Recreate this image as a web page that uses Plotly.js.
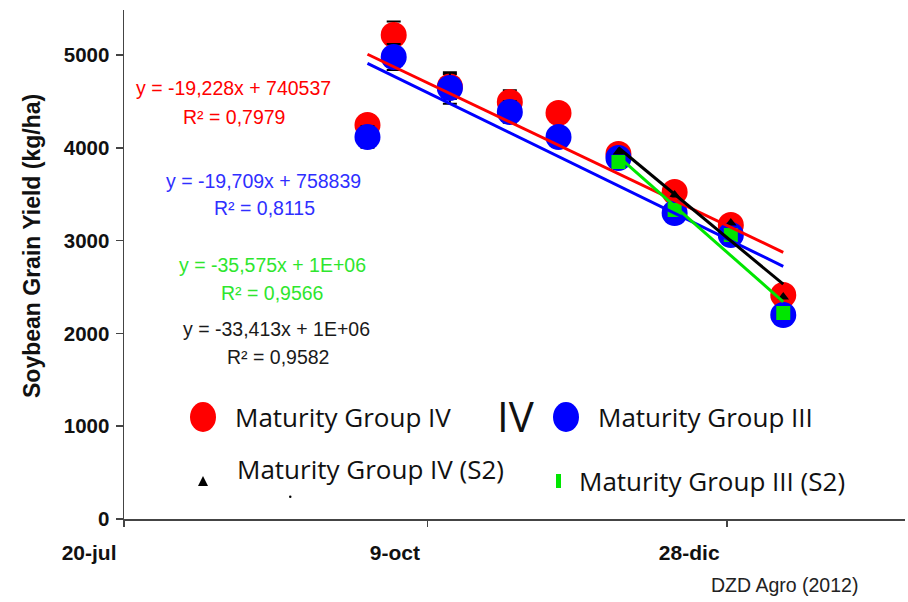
<!DOCTYPE html>
<html>
<head>
<meta charset="utf-8">
<script src="https://cdn.plot.ly/plotly-3.0.1.min.js"></script>
<style>
  html, body { margin: 0; padding: 0; background: #fff; }
  #chart { width: 908px; height: 602px; }
</style>
</head>
<body>
<div id="chart"></div>
<script>
// Sowing dates and mean grain yield (kg/ha) per maturity group
const sowingDates = ['2004-09-23', '2004-09-30', '2004-10-15', '2004-10-31', '2004-11-13',
                     '2004-11-29', '2004-12-14', '2004-12-29', '2005-01-12'];
const yieldMG4 = [4246, 5216, 4660, 4494, 4375, 3933, 3524, 3168, 2414];
const errMG4   = [105, 145, 135, 125, 100, 90, 90, 90, 90];
const yieldMG3 = [4116, 4978, 4644, 4386, 4116, 3890, 3297, 3060, 2198];
const errMG3   = [115, 140, 170, 115, 100, 90, 90, 90, 90];

// Second season (S2) subset
const sowingDatesS2 = ['2004-11-29', '2004-12-14', '2004-12-29', '2005-01-12'];
const yieldMG4S2 = [3955, 3491, 3190, 2392];
const yieldMG3S2 = [3847, 3330, 3060, 2220];

// Linear trend fits (x = spreadsheet date serial)
const trendSlopes     = [-19.228, -19.709, -35.575, -33.413];
const trendIntercepts = [740537, 758839, null, null];   // null: fit through the series mean
const trendR2         = ['0,7979', '0,8115', '0,9566', '0,9582'];

// Axis ticks
const tickDates  = ['2004-07-20', '2004-10-09', '2004-12-28'];
const tickLabels = ['20-jul', '9-oct', '28-dic'];
const yTicks     = [0, 1000, 2000, 3000, 4000, 5000];

const seriesNames = ['Maturity Group IV', 'Maturity Group III', 'Maturity Group IV (S2)', 'Maturity Group III (S2)'];

const RED = '#FF0000', BLUE = '#0000FF', GREEN = '#00E600', BLACK = '#000000';
const GREEN_TEXT = '#2EE62E', BLUE_TEXT = '#2F2FFF';

function serial(d) { return Date.parse(d + 'T00:00:00Z') / 86400000 + 25569; }
function mean(a) { return a.reduce((s, v) => s + v, 0) / a.length; }

function trendLine(dates, values, k) {
  const slope = trendSlopes[k];
  let b = trendIntercepts[k];
  if (b === null) b = mean(values) - slope * mean(dates.map(serial));
  const xs = [dates[0], dates[dates.length - 1]];
  return { x: xs, y: xs.map(d => slope * serial(d) + b), b: b };
}

function fmtNum(v) {
  if (Math.abs(v) >= 1e6) {
    const e = Math.floor(Math.log10(Math.abs(v)));
    const m = Math.round(v / Math.pow(10, e));
    return m + 'E+' + String(e).padStart(2, '0');
  }
  return String(Math.round(v));
}
function eqText(k, b) {
  return 'y = ' + trendSlopes[k].toFixed(3).replace('.', ',') + 'x + ' + fmtNum(b);
}

const fitMG4   = trendLine(sowingDates, yieldMG4, 0);
const fitMG3   = trendLine(sowingDates, yieldMG3, 1);
const fitMG3S2 = trendLine(sowingDatesS2, yieldMG3S2, 2);
const fitMG4S2 = trendLine(sowingDatesS2, yieldMG4S2, 3);

const errStyle = { type: 'data', visible: true, color: BLACK, thickness: 2, width: 7 };

const traces = [
  { x: sowingDates, y: yieldMG4, name: seriesNames[0], mode: 'markers', type: 'scatter',
    marker: { color: RED, size: 26 }, error_y: Object.assign({ array: errMG4 }, errStyle) },
  { x: sowingDates, y: yieldMG3, name: seriesNames[1], mode: 'markers', type: 'scatter',
    marker: { color: BLUE, size: 26 }, error_y: Object.assign({ array: errMG3 }, errStyle) },
  { x: sowingDatesS2, y: yieldMG4S2, name: seriesNames[2], mode: 'markers', type: 'scatter',
    marker: { color: BLACK, size: 10, symbol: 'triangle-up' } },
  { x: sowingDatesS2, y: yieldMG3S2, name: seriesNames[3], mode: 'markers', type: 'scatter',
    marker: { color: GREEN, size: 14, symbol: 'square' } },
  { x: fitMG3.x, y: fitMG3.y, mode: 'lines', line: { color: BLUE, width: 3 }, hoverinfo: 'skip' },
  { x: fitMG4.x, y: fitMG4.y, mode: 'lines', line: { color: RED, width: 3 }, hoverinfo: 'skip' },
  { x: fitMG3S2.x, y: fitMG3S2.y, mode: 'lines', line: { color: GREEN, width: 3 }, hoverinfo: 'skip' },
  { x: fitMG4S2.x, y: fitMG4S2.y, mode: 'lines', line: { color: BLACK, width: 3 }, hoverinfo: 'skip' }
];

// plot-area frame in pixels, used to place free text and legend symbols
const L = 124, R = 905, T = 10, B = 519;
const px = x => (x - L) / (R - L);
const py = y => (B - y) / (B - T);

const ARIAL = 'Liberation Sans, Arial, sans-serif';
const SANS = 'Open Sans, sans-serif';

function txt(x, y, text, color, size, family, anchor, extra) {
  return Object.assign({ xref: 'paper', yref: 'paper', x: px(x), y: py(y), text: text,
    showarrow: false, xanchor: anchor || 'center', yanchor: 'middle',
    font: { color: color, size: size, family: family } }, extra || {});
}

const annotations = [
  txt(233, 88,  eqText(0, fitMG4.b), RED, 19.5, ARIAL),
  txt(234, 117, 'R² = ' + trendR2[0], RED, 19.5, ARIAL),
  txt(263, 181, eqText(1, fitMG3.b), BLUE_TEXT, 19.5, ARIAL),
  txt(264, 208, 'R² = ' + trendR2[1], BLUE_TEXT, 19.5, ARIAL),
  txt(272, 265, eqText(2, fitMG3S2.b), GREEN_TEXT, 19.5, ARIAL),
  txt(272, 293, 'R² = ' + trendR2[2], GREEN_TEXT, 19.5, ARIAL),
  txt(276, 329, eqText(3, fitMG4S2.b), '#1a1a1a', 19.5, ARIAL),
  txt(278, 357, 'R² = ' + trendR2[3], '#1a1a1a', 19.5, ARIAL),
  // y-axis title
  txt(32, 246, '<b>Soybean Grain Yield (kg/ha)</b>', '#111', 23, ARIAL, 'center', { textangle: -90 }),
  // source note
  txt(784, 585, 'DZD Agro (2012)', '#222', 19.5, ARIAL),
  // legend
  txt(233, 417, seriesNames[0], '#111', 26, SANS, 'left'),
  txt(516, 415, 'IV', '#111', 42, SANS, 'center'),
  txt(596, 417, seriesNames[1], '#111', 26, SANS, 'left'),
  txt(235, 469, seriesNames[2], '#111', 26, SANS, 'left'),
  txt(577, 481, seriesNames[3], '#111', 26, SANS, 'left')
];

const shapes = [
  { type: 'circle', xref: 'paper', yref: 'paper', x0: px(190), x1: px(216), y0: py(432), y1: py(402),
    fillcolor: RED, line: { width: 0 } },
  { type: 'circle', xref: 'paper', yref: 'paper', x0: px(553), x1: px(579), y0: py(432), y1: py(402),
    fillcolor: BLUE, line: { width: 0 } },
  { type: 'path', xref: 'paper', yref: 'paper',
    path: 'M' + px(198) + ',' + py(486) + ' L' + px(208) + ',' + py(486) + ' L' + px(203) + ',' + py(476) + ' Z',
    fillcolor: BLACK, line: { width: 0 } },
  { type: 'rect', xref: 'paper', yref: 'paper', x0: px(556), x1: px(561), y0: py(488), y1: py(474),
    fillcolor: GREEN, line: { width: 0 } },
  { type: 'circle', xref: 'paper', yref: 'paper', x0: px(289), x1: px(291.5), y0: py(498), y1: py(495.5),
    fillcolor: BLACK, line: { width: 0 } }
];

const layout = {
  width: 908, height: 602,
  margin: { l: L, r: 908 - R, t: T, b: 602 - B },
  paper_bgcolor: '#ffffff', plot_bgcolor: '#ffffff',
  showlegend: false,
  xaxis: {
    type: 'date',
    range: ['2004-07-20', '2005-02-13 12:00'],
    tickmode: 'array', tickvals: tickDates, ticktext: tickLabels,
    ticks: 'outside', ticklen: 6, tickwidth: 1.5, tickcolor: '#444',
    ticklabelposition: 'outside left', ticklabelstandoff: 14, ticklabelshift: -6,
    tickfont: { family: ARIAL, size: 21, color: '#111', weight: 'bold' },
    showline: true, linecolor: '#444', linewidth: 1.5,
    showgrid: false, zeroline: false
  },
  yaxis: {
    range: [0, 5485],
    tickmode: 'array', tickvals: yTicks,
    ticks: 'outside', ticklen: 7, tickwidth: 1.5, tickcolor: '#444',
    ticklabelstandoff: 2,
    tickfont: { family: ARIAL, size: 20.5, color: '#111', weight: 'bold' },
    showline: true, linecolor: '#444', linewidth: 1.5,
    showgrid: false, zeroline: false
  },
  annotations: annotations,
  shapes: shapes
};

Plotly.newPlot('chart', traces, layout, { displayModeBar: false, staticPlot: true });
</script>
</body>
</html>
